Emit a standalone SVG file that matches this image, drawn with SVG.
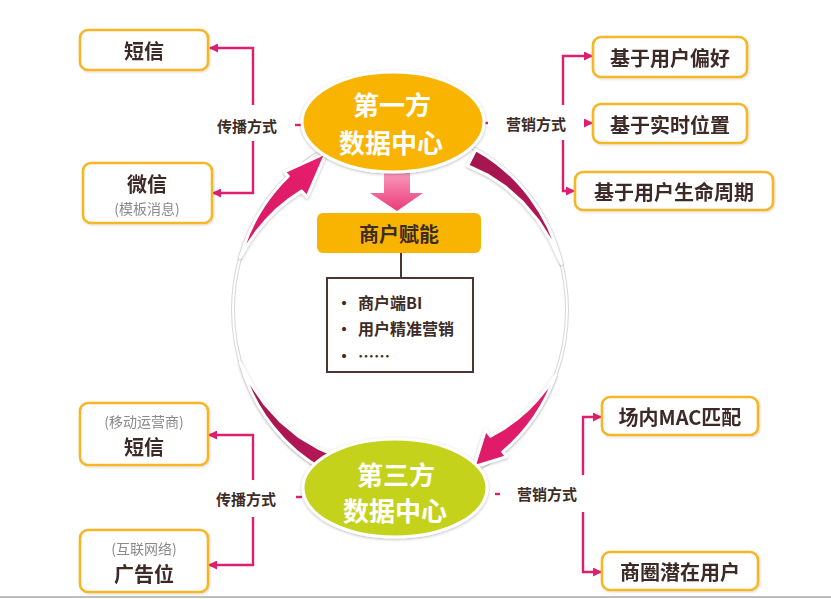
<svg xmlns="http://www.w3.org/2000/svg" width="831" height="599" viewBox="0 0 831 599">
<defs>
<style>
.box{fill:#fff;stroke:#F6B626;stroke-width:2.6}
.bt{font-family:"Noto Sans CJK SC","Noto Sans",sans-serif;font-weight:bold;font-size:20px;fill:#3d2b26;text-anchor:middle;dominant-baseline:central}
.sub{font-family:"Noto Sans CJK SC","Noto Sans",sans-serif;font-size:14px;fill:#8a8a8a;text-anchor:middle;dominant-baseline:central}
.lbl{font-family:"Noto Sans CJK SC","Noto Sans",sans-serif;font-weight:bold;font-size:15px;fill:#3d2b26;text-anchor:middle;dominant-baseline:central}
.et{font-family:"Noto Sans CJK SC","Noto Sans",sans-serif;font-weight:bold;font-size:26px;fill:#fff;text-anchor:middle;dominant-baseline:central}
.lt{font-family:"Noto Sans CJK SC","Noto Sans",sans-serif;font-weight:bold;font-size:16px;fill:#3d2b26;dominant-baseline:central}
.con{fill:none;stroke:#DC1F6E;stroke-width:2.4}
.big{stroke:#fff;stroke-width:3;stroke-linejoin:round}
</style>
<marker id="ah" markerUnits="userSpaceOnUse" markerWidth="9" markerHeight="9" refX="8" refY="4.5" orient="auto">
<path d="M0,0 L9,4.5 L0,9 z" fill="#DC1F6E"/>
</marker>
<filter id="sh" x="-20%" y="-20%" width="140%" height="140%">
<feDropShadow dx="0" dy="1" stdDeviation="1.5" flood-color="#000" flood-opacity="0.28"/>
</filter>
<filter id="bsh" x="-10%" y="-20%" width="120%" height="140%">
<feDropShadow dx="1" dy="1" stdDeviation="1" flood-color="#000" flood-opacity="0.15"/>
</filter>
<linearGradient id="pinkA" x1="0" y1="1" x2="1" y2="0">
<stop offset="0" stop-color="#D41A62"/>
<stop offset="1" stop-color="#E8206E"/>
</linearGradient>
<linearGradient id="darkA" x1="0" y1="0" x2="1" y2="1">
<stop offset="0" stop-color="#A3124E"/>
<stop offset="1" stop-color="#B51657"/>
</linearGradient>
<linearGradient id="downA" x1="0" y1="0" x2="0" y2="1">
<stop offset="0" stop-color="#F9A6C4"/>
<stop offset="1" stop-color="#EC3A78"/>
</linearGradient>
</defs>
<rect width="831" height="599" fill="#fff"/>
<line x1="0" y1="597" x2="831" y2="597" stroke="#bdbdbd" stroke-width="2"/>

<g id="ring">
<ellipse cx="400" cy="310" rx="167" ry="180" fill="none" stroke="#d6d6d6" stroke-width="4"/>
<ellipse cx="400" cy="310" rx="167" ry="180" fill="none" stroke="#fff" stroke-width="2"/>
</g>

<g id="cycle-arrows" filter="url(#sh)">
<path class="big" fill="url(#pinkA)" d="M240.3,257.4 A167 180 0 0 1 288.3,176.2 L284.2,171.8 L326,153 L307,197 L301.6,191.1 L287.9,200.3 L276.9,209.4 L266.6,219.8 L257,231.2 L248.1,243.8 Z"/>
<path class="big" fill="url(#darkA)" d="M475.8,149.6 A167 180 0 0 1 561.3,263.4 L551,240.8 L538,220.4 L522.8,202.4 L505.7,187.1 L487.2,174.8 L467.6,165.7 Z"/>
<path class="big" fill="#E01E6A" d="M555.9,374.5 A167 180 0 0 1 502.8,451.8 L506.5,456.6 L474,466.8 L485.6,429.8 L490.5,436.1 L504.8,427.9 L516.3,419.6 L527.3,410.1 L537.6,399.4 L547.2,387.5 Z"/>
<path class="big" fill="url(#darkA)" d="M324.2,470.4 A167 180 0 0 1 240.3,362.6 L251.5,384.8 L265.2,404.6 L281.1,421.9 L298.6,436.4 L317.6,447.8 L332.4,454.3 Z"/>
</g>

<g id="connectors">
<path class="con" d="M253,105 V48 H210" marker-end="url(#ah)"/>
<path class="con" d="M253,141 V193 H213" marker-end="url(#ah)"/>
<line class="con" x1="295" y1="125" x2="301" y2="125"/>
<path class="con" d="M563,105 V56 H592" marker-end="url(#ah)"/>
<path class="con" d="M563,140 V191 H574" marker-end="url(#ah)"/>
<path class="con" d="M584,123 H592" marker-end="url(#ah)"/>
<line class="con" x1="483" y1="123" x2="488" y2="123"/>
<path class="con" d="M253,480 V435 H209" marker-end="url(#ah)"/>
<path class="con" d="M253,517 V565 H209" marker-end="url(#ah)"/>
<line class="con" x1="296" y1="497" x2="302" y2="497"/>
<path class="con" d="M583,475 V417 H601" marker-end="url(#ah)"/>
<path class="con" d="M583,512 V572 H601" marker-end="url(#ah)"/>
<line class="con" x1="495" y1="494" x2="500" y2="494"/>
<line x1="401" y1="253" x2="401" y2="278" stroke="#4a3530" stroke-width="2"/>
</g>

<g id="labels">
<text class="lbl" x="247" y="125">传播方式</text>
<text class="lbl" x="536" y="123">营销方式</text>
<text class="lbl" x="246" y="498">传播方式</text>
<text class="lbl" x="547" y="493">营销方式</text>
</g>

<g id="down-arrow">
<path d="M384,168 H410 V193 H423 L397,211 L370,193 H384 Z" fill="url(#downA)"/>
</g>

<g id="first-party">
<ellipse cx="393" cy="122" rx="91" ry="50" fill="#F8B400" stroke="#fff" stroke-width="3" filter="url(#sh)"/>
<text class="et" x="392" y="103">第一方</text>
<text class="et" x="391" y="141">数据中心</text>
</g>

<g id="third-party">
<ellipse cx="395" cy="488" rx="92" ry="49" fill="#C5D21A" stroke="#fff" stroke-width="3" filter="url(#sh)"/>
<text class="et" x="396" y="473">第三方</text>
<text class="et" x="395" y="509">数据中心</text>
</g>

<g id="empower">
<rect x="317" y="213" width="164" height="40" rx="6" fill="#F8B400"/>
<text class="bt" x="399" y="233">商户赋能</text>
</g>

<g id="list">
<rect x="327" y="278" width="146" height="94" fill="#fff" stroke="#4a3530" stroke-width="2"/>
<text class="lt" x="336" y="302" font-size="14">•</text>
<text class="lt" x="358" y="302" font-size="15">商户端BI</text>
<text class="lt" x="336" y="328" font-size="14">•</text>
<text class="lt" x="358" y="328">用户精准营销</text>
<text class="lt" x="336" y="355" font-size="14">•</text>
<text class="lt" x="358" y="355" font-size="14">……</text>
</g>

<g id="tl-sms" filter="url(#bsh)">
<rect class="box" x="80" y="30" width="128" height="40" rx="8"/>
<text class="bt" x="144" y="50">短信</text>
</g>
<g id="tl-wechat" filter="url(#bsh)">
<rect class="box" x="83" y="163" width="129" height="60" rx="8"/>
<text class="bt" x="147" y="183">微信</text>
<text class="sub" x="147" y="208">(模板消息)</text>
</g>
<g id="tr-pref" filter="url(#bsh)">
<rect class="box" x="593" y="37" width="154" height="40" rx="8"/>
<text class="bt" x="670" y="57">基于用户偏好</text>
</g>
<g id="tr-loc" filter="url(#bsh)">
<rect class="box" x="593" y="104" width="154" height="39" rx="8"/>
<text class="bt" x="670" y="124">基于实时位置</text>
</g>
<g id="tr-life" filter="url(#bsh)">
<rect class="box" x="575" y="172" width="198" height="38" rx="8"/>
<text class="bt" x="674" y="191">基于用户生命周期</text>
</g>
<g id="bl-sms" filter="url(#bsh)">
<rect class="box" x="80" y="403" width="128" height="62" rx="8"/>
<text class="sub" x="144" y="421">(移动运营商)</text>
<text class="bt" x="144" y="446">短信</text>
</g>
<g id="bl-ad" filter="url(#bsh)">
<rect class="box" x="80" y="530" width="128" height="62" rx="8"/>
<text class="sub" x="144" y="548">(互联网络)</text>
<text class="bt" x="144" y="573">广告位</text>
</g>
<g id="br-mac" filter="url(#bsh)">
<rect class="box" x="602" y="397" width="156" height="38" rx="8"/>
<text class="bt" x="680" y="416">场内MAC匹配</text>
</g>
<g id="br-area" filter="url(#bsh)">
<rect class="box" x="602" y="552" width="156" height="38" rx="8"/>
<text class="bt" x="680" y="571">商圈潜在用户</text>
</g>
</svg>
